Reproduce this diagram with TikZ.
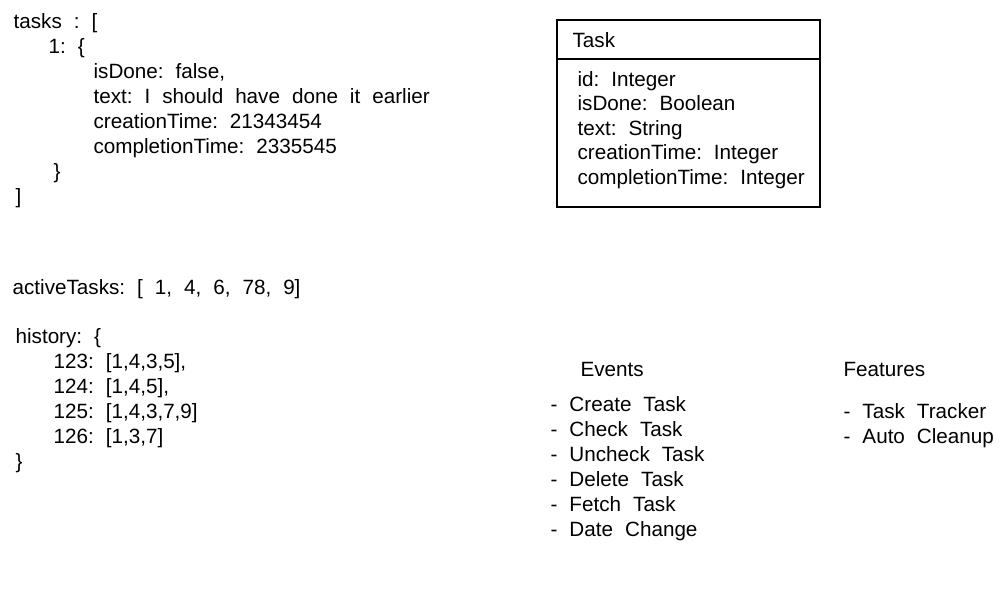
\documentclass[tikz,border=0pt]{standalone}
\usepackage{fontspec}
\setmainfont{Liberation Sans}
\newcommand\sketchfont{\fontsize{15.5}{19}\selectfont\frenchspacing\spaceskip 0.58em\relax}

\begin{document}
\begin{tikzpicture}[x=0.75pt,y=-0.75pt,line width=0.9pt,
  txt/.style={anchor=base west,inner sep=0pt,font=\sketchfont}]
  \useasboundingbox (0,0) rectangle (1007,600);
  % tasks
  \foreach \dx/\t [count=\i] in {0/{tasks : [},35/{1: \{},80/{isDone: false,},80/{text: I should have done it earlier},80/{creationTime: 21343454},80/{completionTime: 2335545},40/{\}},2/{]}}
    \node[txt] (tk\i) at (13+\dx,3+25*\i) {\t};
  % activeTasks
  \node[txt] (active) at (12,294) {activeTasks: [ 1, 4, 6, 78, 9]};
  % history
  \foreach \dx/\t [count=\i] in {0/{history: \{},38/{123: [1,4,3,5],},38/{124: [1,4,5],},38/{125: [1,4,3,7,9]},38/{126: [1,3,7]},0/{\}}}
    \node[txt] (hist\i) at (15+\dx,318+25*\i) {\t};
  % Task class
  \draw (557,20) rectangle (820,207);
  \draw (557,59) -- (820,59);
  \node[txt] (cls) at (572,47) {Task};
  \foreach \t [count=\i] in {id: Integer,isDone: Boolean,text: String,creationTime: Integer,completionTime: Integer}
    \node[txt] (fld\i) at (577,61.5+24.5*\i) {\t};
  % events
  \node[txt] (events) at (580,376) {Events};
  \foreach \t [count=\i] in {Create Task,Check Task,Uncheck Task,Delete Task,Fetch Task,Date Change}
    \node[txt] (ev\i) at (550,386+25*\i) {- \t};
  % features
  \node[txt] (features) at (843,376) {Features};
  \foreach \t [count=\i] in {Task Tracker,Auto Cleanup}
    \node[txt] (ft\i) at (843,393+25*\i) {- \t};
\end{tikzpicture}
\end{document}
